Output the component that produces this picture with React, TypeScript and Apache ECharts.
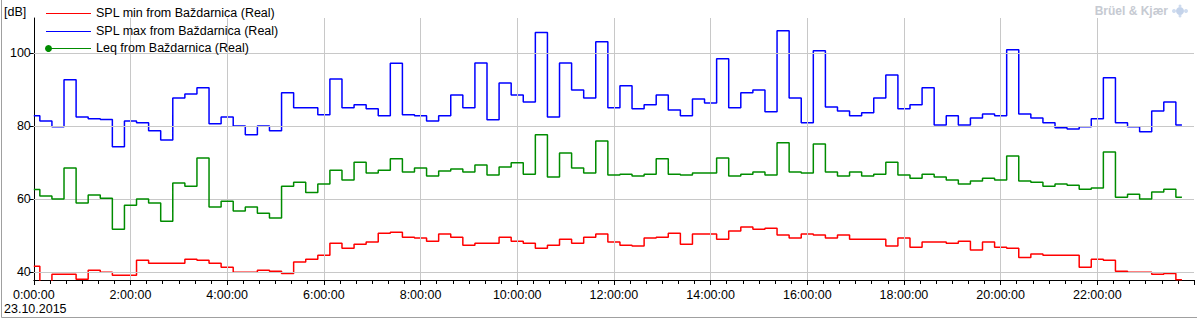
import React, { useEffect, useRef } from "react";
import * as echarts from "echarts";

// 15-minute values, 0:00:00 .. 23:45:00 on 23.10.2015
const splMax = [
  82.9, 81.5, 79.9, 92.8, 82.6, 82.1, 81.9, 74.4, 81.5, 81.0,
  78.8, 76.3, 87.8, 88.9, 90.6, 80.7, 82.6, 80.1, 77.7, 80.1,
  78.8, 89.2, 85.1, 85.1, 83.2, 93.0, 85.1, 85.9, 84.8, 82.9,
  97.3, 83.2, 82.9, 81.5, 82.9, 88.6, 85.1, 97.4, 81.8, 91.9,
  88.6, 86.7, 105.7, 82.6, 97.4, 90.0, 87.8, 103.2, 85.1, 91.1,
  84.8, 85.9, 88.6, 84.5, 82.9, 87.5, 86.4, 98.5, 85.1, 89.2,
  90.0, 84.0, 106.2, 87.8, 81.0, 100.7, 85.3, 84.2, 82.9, 83.7,
  87.8, 94.1, 84.8, 85.9, 90.6, 80.4, 82.9, 80.4, 82.3, 83.4,
  82.9, 101.0, 83.4, 82.3, 81.0, 79.6, 79.3, 79.9, 82.1, 93.3,
  81.0, 79.9, 78.5, 84.2, 86.7, 80.4,
];

const leq = [
  62.7, 60.9, 60.1, 68.6, 59.0, 61.2, 60.3, 51.8, 58.4, 60.1,
  59.0, 54.0, 64.5, 63.6, 71.3, 57.9, 59.5, 56.8, 57.9, 56.2,
  54.9, 63.6, 64.7, 61.9, 64.2, 68.0, 65.3, 70.2, 67.2, 68.0,
  71.1, 67.5, 68.6, 66.4, 67.8, 68.3, 67.5, 69.4, 66.7, 68.9,
  70.0, 66.9, 77.7, 66.1, 72.7, 68.6, 67.2, 76.0, 66.7, 66.9,
  66.4, 66.9, 71.1, 66.9, 66.7, 67.2, 67.2, 71.3, 66.4, 66.9,
  67.5, 66.7, 75.5, 67.5, 67.2, 75.2, 67.5, 66.4, 67.5, 66.4,
  66.9, 70.2, 66.7, 65.8, 66.9, 66.1, 65.3, 64.2, 65.0, 65.8,
  65.3, 71.9, 65.0, 64.7, 63.6, 64.2, 63.9, 62.8, 63.1, 73.0,
  60.6, 61.4, 60.1, 62.0, 62.8, 60.6,
];

const splMin = [
  41.7, 37.0, 39.5, 39.5, 38.1, 40.6, 40.0, 39.2, 39.2, 43.3,
  42.5, 42.5, 42.5, 43.6, 43.3, 42.5, 41.4, 40.0, 40.0, 40.6,
  40.3, 39.7, 42.8, 43.6, 44.7, 48.0, 46.6, 47.7, 48.3, 50.7,
  51.0, 49.6, 49.4, 48.5, 50.5, 49.6, 47.4, 48.0, 48.0, 49.6,
  48.5, 48.0, 46.6, 47.4, 49.1, 48.0, 49.6, 50.5, 48.3, 47.4,
  47.2, 49.4, 49.6, 50.7, 47.7, 50.5, 50.5, 49.1, 51.3, 52.4,
  51.8, 52.1, 50.2, 49.4, 50.5, 50.2, 49.4, 50.2, 49.1, 49.1,
  49.1, 47.2, 49.4, 46.9, 48.3, 48.3, 48.0, 48.5, 46.1, 48.3,
  46.9, 46.6, 44.1, 45.0, 44.7, 44.7, 44.7, 41.4, 43.6, 43.3,
  40.3, 40.0, 40.0, 39.5, 39.7, 38.0,
];

const seriesNames = [
  "SPL min from Baždarnica (Real)",
  "SPL max from Baždarnica (Real)",
  "Leq from Baždarnica (Real)",
];
const seriesColors = ["#ff0000", "#0000ff", "#008c00"];

const yTicks = [40, 60, 80, 100];
const xTicks = [0, 2, 4, 6, 8, 10, 12, 14, 16, 18, 20, 22]; // hours
const dateLabel = "23.10.2015";
const unitLabel = "[dB]";
const brandLabel = "Brüel & Kjær";

const STEP_HOURS = 0.25;
const FONT = "'Liberation Sans', Arial, sans-serif";
const FS = 12.5;

function toPairs(vals: number[]) {
  return vals.map((v, i) => [i * STEP_HOURS, v]);
}

function hourLabel(h: number) {
  return `${h}:00:00`;
}

export default function App() {
  const ref = useRef<HTMLDivElement>(null);

  useEffect(() => {
    if (!ref.current) return;
    const chart = echarts.init(ref.current, null, { renderer: "svg" });

    const gridLines = [
      ...xTicks.filter((h) => h > 0).map((h) => ({ xAxis: h })),
      ...yTicks.map((v) => ({ yAxis: v })),
    ];

    const legendY = [13, 31, 48];
    const legendGraphics: any[] = [];
    seriesNames.forEach((name, i) => {
      legendGraphics.push({
        type: "line",
        shape: { x1: 46, y1: legendY[i] + 0.5, x2: 91, y2: legendY[i] + 0.5 },
        style: { stroke: seriesColors[i], lineWidth: 1 },
        z: 10,
      });
      legendGraphics.push({
        type: "text",
        x: 96,
        y: legendY[i],
        style: {
          text: name,
          fill: "#000",
          font: `${FS}px ${FONT}`,
          verticalAlign: "middle",
        },
        z: 10,
      });
    });
    legendGraphics.push({
      type: "circle",
      shape: { cx: 48.5, cy: legendY[2] + 0.5, r: 3.5 },
      style: { fill: seriesColors[2] },
      z: 11,
    });

    const option: any = {
      animation: false,
      backgroundColor: "#ffffff",
      grid: {
        left: 33.8,
        top: 18,
        width: 24 * 48.93,
        height: 262,
        containLabel: false,
      },
      xAxis: {
        type: "value",
        min: 0,
        max: 24,
        interval: 2,
        axisLine: { show: true, lineStyle: { color: "#000", width: 1 } },
        axisTick: { show: true, length: 5, lineStyle: { color: "#000" } },
        minorTick: { show: true, splitNumber: 6, length: 4, lineStyle: { color: "#000" } },
        splitLine: { show: false },
        minorSplitLine: { show: false },
        axisLabel: {
          color: "#000",
          fontFamily: FONT,
          fontSize: FS,
          margin: 8,
          formatter: (v: number) => (v >= 24 ? "" : hourLabel(v)),
        },
      },
      yAxis: {
        type: "value",
        min: 37.9,
        max: 109.7,
        axisLine: { show: true, lineStyle: { color: "#000", width: 1 } },
        axisTick: { show: true, length: 4, customValues: yTicks, lineStyle: { color: "#000" } },
        splitLine: { show: false },
        axisLabel: {
          color: "#000",
          fontFamily: FONT,
          fontSize: FS,
          margin: 3,
          customValues: yTicks,
        },
      },
      graphic: [
        {
          type: "line",
          shape: { x1: 1.5, y1: 0, x2: 1.5, y2: 317.5 },
          style: { stroke: "#a0a0a0", lineWidth: 1 },
        },
        {
          type: "line",
          shape: { x1: 1.5, y1: 317.5, x2: 1197, y2: 317.5 },
          style: { stroke: "#a0a0a0", lineWidth: 1 },
        },
        {
          type: "text",
          x: 4,
          y: 12,
          style: { text: unitLabel, fill: "#000", font: `${FS}px ${FONT}`, verticalAlign: "middle" },
        },
        {
          type: "text",
          x: 4,
          y: 309,
          style: { text: dateLabel, fill: "#000", font: `${FS}px ${FONT}`, verticalAlign: "middle" },
        },
        {
          type: "text",
          x: 1168,
          y: 11,
          style: {
            text: brandLabel,
            fill: "#c6cad2",
            font: `bold 12px ${FONT}`,
            align: "right",
            verticalAlign: "middle",
          },
        },
        { type: "circle", shape: { cx: 1180, cy: 11, r: 4 }, style: { fill: "#c4d3ea" } },
        { type: "circle", shape: { cx: 1174, cy: 11, r: 2 }, style: { fill: "#cfdcef" } },
        { type: "circle", shape: { cx: 1186, cy: 11, r: 2 }, style: { fill: "#cfdcef" } },
        { type: "circle", shape: { cx: 1180, cy: 6, r: 1.5 }, style: { fill: "#cfdcef" } },
        { type: "circle", shape: { cx: 1180, cy: 16, r: 1.5 }, style: { fill: "#cfdcef" } },
        ...legendGraphics,
      ],
      series: [
        {
          name: "grid",
          type: "line",
          data: [],
          z: 1,
          silent: true,
          markLine: {
            silent: true,
            symbol: "none",
            animation: false,
            label: { show: false },
            lineStyle: { type: "solid", color: "#c8c8c8", width: 1 },
            emphasis: { disabled: true },
            data: gridLines,
          },
        },
        ...[splMin, splMax, leq].map((vals, i) => ({
          name: seriesNames[i],
          type: "line",
          step: "middle",
          data: toPairs(vals),
          showSymbol: false,
          symbol: "none",
          z: 3 + i,
          lineStyle: { color: seriesColors[i], width: 1.5 },
          itemStyle: { color: seriesColors[i] },
          emphasis: { disabled: true },
          clip: true,
        })),
      ],
    };

    chart.setOption(option);
    return () => chart.dispose();
  }, []);

  return (
    <div
      ref={ref}
      style={{ position: "fixed", left: 0, top: 0, width: 1197, height: 319, background: "#fff" }}
    />
  );
}
